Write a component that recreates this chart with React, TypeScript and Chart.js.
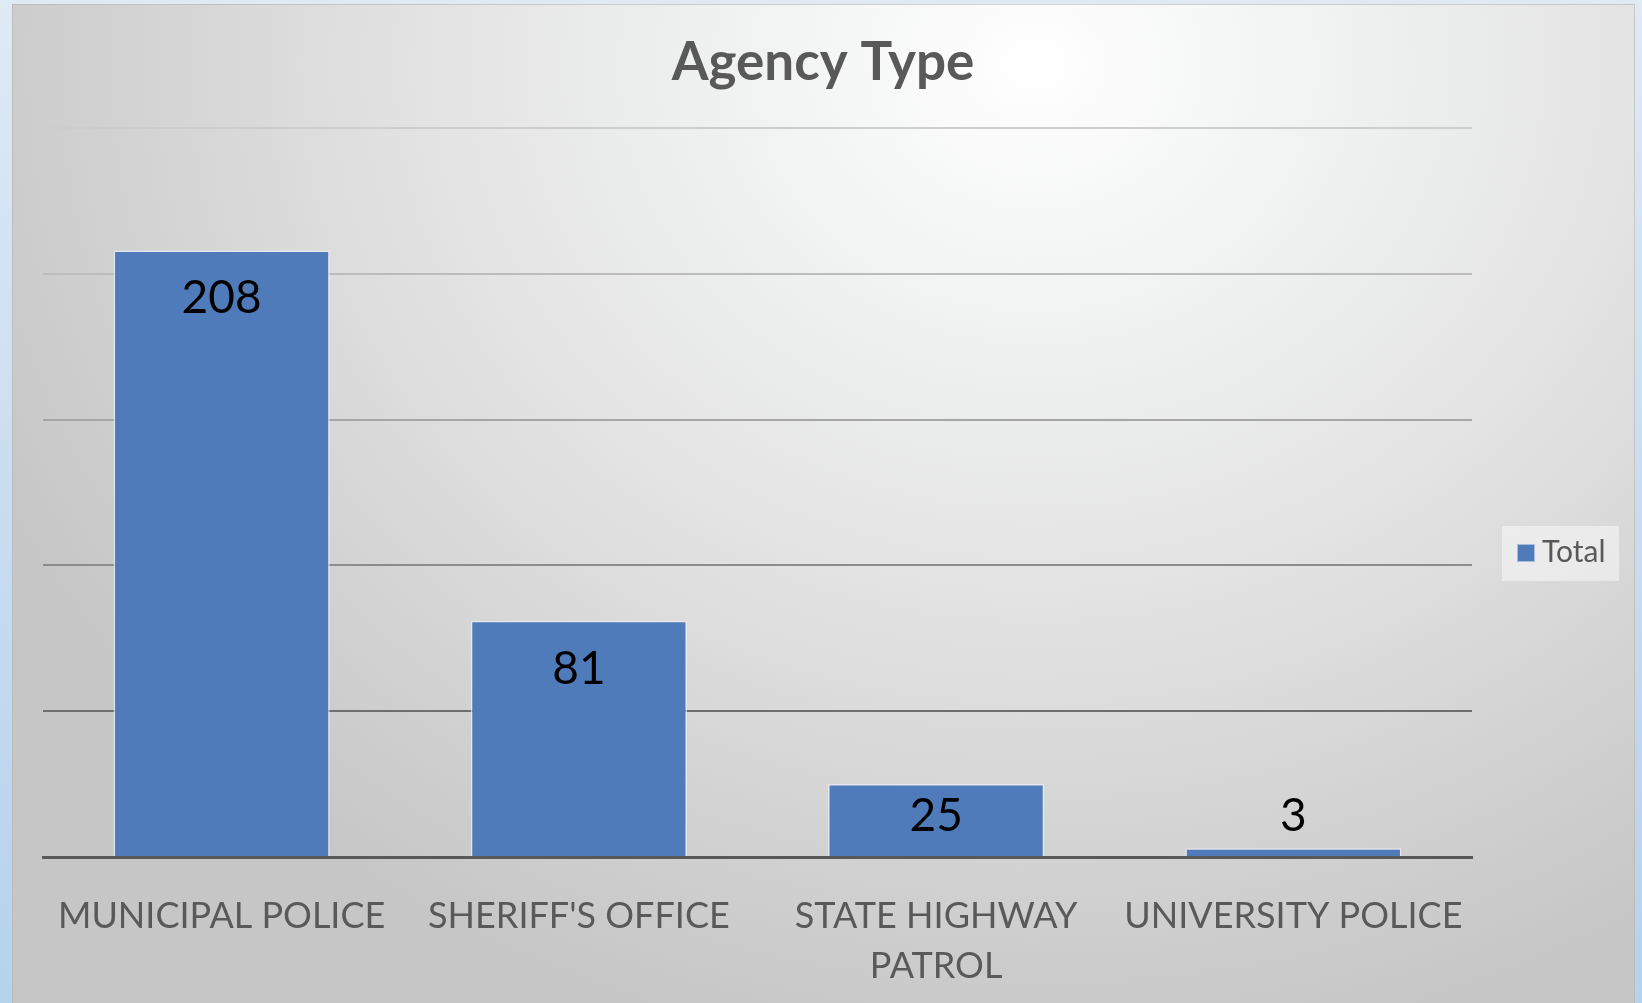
import React, { useEffect, useRef } from "react";
import { Chart, registerables } from "chart.js";

Chart.register(...registerables);

const chartTitle = "Agency Type";
const seriesName = "Total";
const categories: string[][] = [
  ["MUNICIPAL POLICE"],
  ["SHERIFF'S OFFICE"],
  ["STATE HIGHWAY", "PATROL"],
  ["UNIVERSITY POLICE"],
];
const totals: number[] = [208, 81, 25, 3];
const yMin = 0;
const yMax = 250;
const yStep = 50;

const FONT = "Lato, 'Open Sans', sans-serif";
const BAR_COLOR = "#4f7bbb";
const TEXT_GRAY = "#595959";

const gridShade: Record<number, string> = {
  0: "rgba(0,0,0,0)",
  50: "#6e6e6e",
  100: "#8c8c8c",
  150: "#a6a6a6",
  200: "#bcbcbc",
  250: "#cdcdcd",
};

const decorPlugin = {
  id: "decor",
  afterDraw(chart: any) {
    const ctx = chart.ctx as CanvasRenderingContext2D;
    ctx.save();
    // title
    ctx.font = `bold 53px ${FONT}`;
    ctx.fillStyle = TEXT_GRAY;
    ctx.textAlign = "center";
    ctx.textBaseline = "alphabetic";
    ctx.fillText(chartTitle, 823, 80);

    // legend
    ctx.fillStyle = "rgba(255,255,255,0.45)";
    ctx.fillRect(1502, 526, 117, 55);
    ctx.fillStyle = BAR_COLOR;
    ctx.fillRect(1517, 544, 18, 18);
    ctx.strokeStyle = "rgba(255,255,255,0.5)";
    ctx.lineWidth = 1;
    ctx.strokeRect(1517.5, 544.5, 17, 17);
    ctx.font = `30px ${FONT}`;
    ctx.fillStyle = TEXT_GRAY;
    ctx.textAlign = "left";
    ctx.fillText(chart.data.datasets[0].label, 1542, 562);

    ctx.restore();
  },
};

const labelPlugin = {
  id: "barLabels",
  afterDatasetsDraw(chart: any) {
    const ctx = chart.ctx as CanvasRenderingContext2D;
    const meta = chart.getDatasetMeta(0);
    const data = chart.data.datasets[0].data as number[];
    ctx.save();
    ctx.font = `46px ${FONT}`;
    ctx.fillStyle = "#000000";
    ctx.textAlign = "center";
    ctx.textBaseline = "alphabetic";
    meta.data.forEach((bar: any, i: number) => {
      const { x, y, base } = bar.getProps(["x", "y", "base"], true);
      const center = Math.min(y + 46, base - 42);
      ctx.fillText(String(data[i]), x, center + 17);
    });
    ctx.restore();
  },
};

export default function App() {
  const ref = useRef<HTMLCanvasElement | null>(null);

  useEffect(() => {
    const canvas = ref.current;
    if (!canvas) return;
    const chart = new Chart(canvas, {
      type: "bar",
      data: {
        labels: categories,
        datasets: [
          {
            label: seriesName,
            data: totals,
            backgroundColor: BAR_COLOR,
            borderColor: "rgba(235,240,248,0.75)",
            borderWidth: 1.5,
            barPercentage: 0.605,
            categoryPercentage: 1,
          },
        ],
      },
      options: {
        animation: false,
        responsive: false,
        maintainAspectRatio: false,
        layout: { padding: { left: 43, right: 170, top: 128, bottom: 0 } },
        plugins: {
          legend: { display: false },
          title: { display: false },
          tooltip: { enabled: false },
        },
        scales: {
          x: {
            grid: { display: false, drawTicks: false },
            border: { display: true, color: "#585858", width: 3, z: 1 },
            ticks: {
              font: { family: FONT, size: 36, lineHeight: 1.39 },
              color: TEXT_GRAY,
              padding: 34,
              maxRotation: 0,
              autoSkip: false,
            },
            afterFit: (s: any) => {
              s.height = 146;
            },
          },
          y: {
            min: yMin,
            max: yMax,
            ticks: { stepSize: yStep, display: false },
            border: { display: false },
            grid: {
              drawTicks: false,
              lineWidth: 2,
              color: (c: any) => gridShade[c.tick?.value] ?? "#bbbbbb",
            },
            afterFit: (s: any) => {
              s.width = 0;
            },
          },
        },
      },
      plugins: [labelPlugin, decorPlugin],
    });
    return () => chart.destroy();
  }, []);

  return (
    <div
      style={{
        position: "fixed",
        left: 0,
        top: 0,
        width: 1642,
        height: 1003,
        overflow: "hidden",
        background: "linear-gradient(180deg, #dfeaf5 0%, #c9ddf0 50%, #b6d2ec 100%)",
      }}
    >
      <div
        style={{
          position: "absolute",
          left: 12,
          top: 4,
          width: 1623,
          height: 1010,
          background:
            "radial-gradient(ellipse 1150px 1000px at 63% 6%, #ffffff 0%, #f1f2f2 25%, #e2e2e2 55%, #d2d2d2 80%, #c6c6c6 100%)",
          boxShadow: "inset 0 0 0 1px rgba(180,180,180,0.6)",
        }}
      />
      <canvas
        ref={ref}
        width={1642}
        height={1003}
        style={{ position: "absolute", left: 0, top: 0, width: 1642, height: 1003 }}
      />
    </div>
  );
}
